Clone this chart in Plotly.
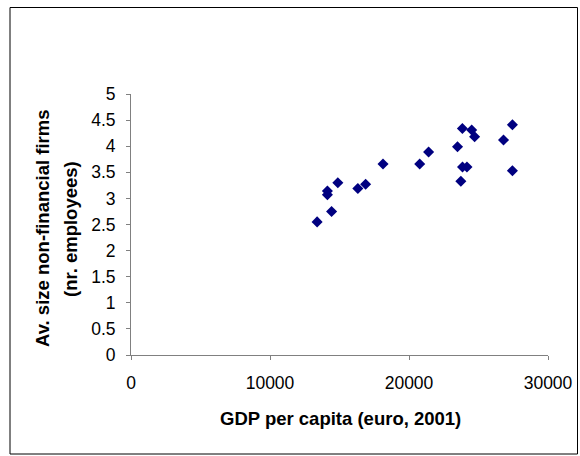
import plotly.graph_objects as go

gdp = [13390, 14130, 14130, 14430, 14880, 16320, 16880, 18130, 20770, 21410,
       23490, 23840, 23730, 23850, 24170, 24510, 24720, 26800, 27440, 27440]
avg_size = [2.55, 3.14, 3.07, 2.75, 3.30, 3.19, 3.27, 3.66, 3.66, 3.89,
            3.99, 4.34, 3.33, 3.60, 3.60, 4.31, 4.18, 4.12, 4.41, 3.53]

x_ticks = [0, 10000, 20000, 30000]
y_ticks = [0, 0.5, 1, 1.5, 2, 2.5, 3, 3.5, 4, 4.5, 5]

x_title = "GDP per capita (euro, 2001)"
y_title_lines = ["Av. size non-financial firms", "(nr. employees)"]

W, H = 580, 456
L, R, T, B = 131, 32, 94, 101
pw, ph = W - L - R, H - T - B

def px(xp):
    return (xp - L) / pw

def py(yp):
    return (H - B - yp) / ph

fig = go.Figure()
fig.add_trace(go.Scatter(
    x=gdp, y=avg_size, mode="markers",
    marker=dict(symbol="diamond", size=8.5, color="#000080",
                line=dict(width=0)),
    cliponaxis=False, showlegend=False,
))

axis_font = dict(family="Liberation Sans, Arial", size=17.5, color="#000000")
fig.update_xaxes(
    range=[0, 30000], tickvals=x_ticks, ticktext=[str(v) for v in x_ticks],
    showgrid=False, zeroline=False, showline=True, linecolor="#808080",
    linewidth=1, ticks="outside", ticklen=4, tickcolor="#808080",
    tickfont=axis_font, ticklabelstandoff=8, fixedrange=True,
)
fig.update_yaxes(
    range=[0, 5], tickvals=y_ticks, ticktext=[f"{v:g}" for v in y_ticks],
    showgrid=False, zeroline=False, showline=True, linecolor="#808080",
    linewidth=1, ticks="outside", ticklen=4, tickcolor="#808080",
    tickfont=axis_font, ticklabelstandoff=7, fixedrange=True,
)

title_font = dict(family="Liberation Sans, Arial", size=18.5, color="#000000")
fig.add_annotation(
    text=f"<b>{x_title}</b>", xref="paper", yref="paper",
    x=px(340), y=py(418), xanchor="center", yanchor="middle",
    showarrow=False, font=title_font,
)
for xc, line in zip([43, 71], y_title_lines):
    fig.add_annotation(
        text=f"<b>{line}</b>", xref="paper", yref="paper",
        x=px(xc), y=py(229), xanchor="center", yanchor="middle",
        textangle=-90, showarrow=False, font=title_font,
    )

fig.add_shape(
    type="rect", xref="paper", yref="paper",
    x0=px(10), x1=px(577.5), y0=py(454), y1=py(7.5),
    line=dict(color="#000000", width=1), fillcolor="rgba(0,0,0,0)",
)

fig.update_layout(
    width=W, height=H, margin=dict(l=L, r=R, t=T, b=B, autoexpand=False),
    paper_bgcolor="white", plot_bgcolor="white",
)

fig.write_html(
    "out.html", config={"displayModeBar": False},
    post_script="document.body.style.margin='0';document.body.style.overflow='hidden';",
)
